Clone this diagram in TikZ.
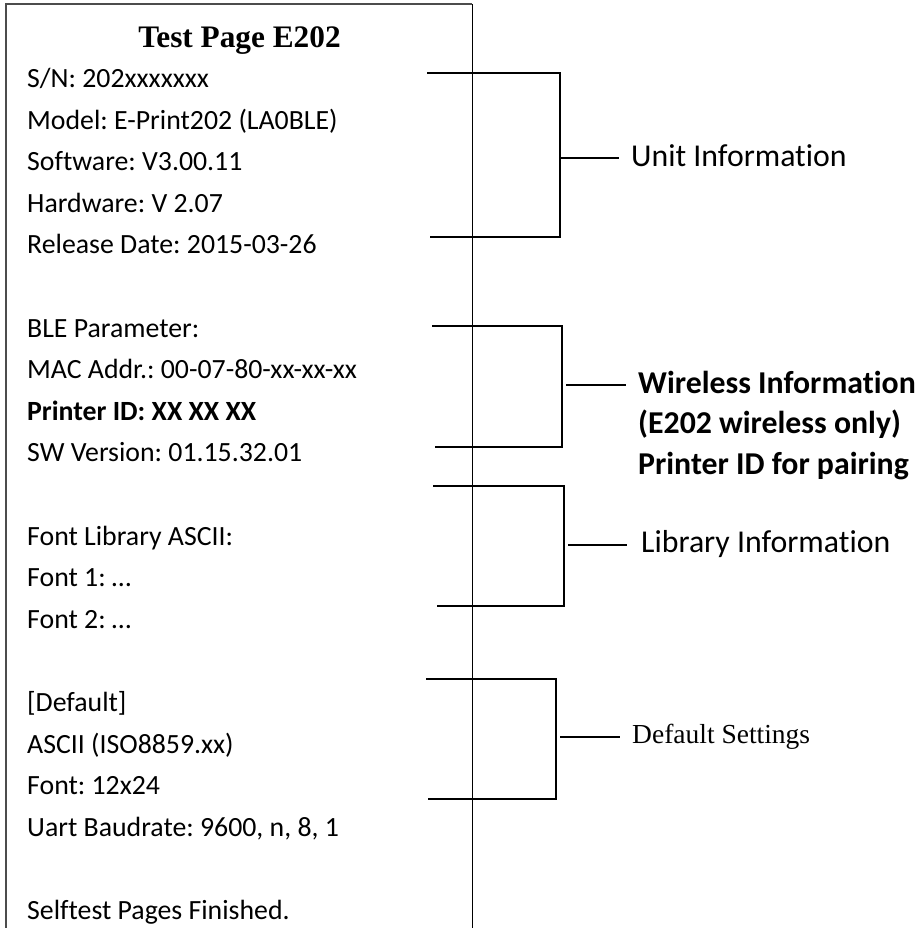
\documentclass[tikz,border=0pt]{standalone}
\usepackage{fontspec}
\setmainfont{Carlito}[Ligatures=NoCommon,RawFeature={-liga;-clig;-dlig}]
\newfontfamily\timesf{Liberation Serif}
\begin{document}
\frenchspacing
\begin{tikzpicture}[x=1pt,y=-1pt,
  line/.style={line width=1.1pt,black},
  body/.style={anchor=base west,inner sep=0pt,font=\fontsize{27.8}{33}\selectfont},
  lab/.style={anchor=base west,inner sep=0pt,font=\fontsize{31.8}{36}\selectfont},
  blab/.style={anchor=base west,inner sep=0pt,font=\fontsize{31.8}{40}\selectfont\bfseries}]
\useasboundingbox[fill=white] (0,0) rectangle (920,928);
% paper outline
\draw[line width=1.3pt,black!70] (6,930) -- (6,4) -- (472,4);
\draw[line width=1pt,black] (472,4) -- (472,930);
% title
\node[anchor=base,inner sep=0pt,font=\timesf\bfseries\fontsize{31.3}{36}\selectfont] (title) at (239.5,48) {Test Page E202};
% body lines
\foreach \i/\t in {0/{S/N: 202xxxxxxx},1/{Model: E-Print202 (LA0BLE)},2/{Software: V3.00.11},3/{Hardware: V 2.07},4/{Release Date: 2015-03-26},6/{BLE Parameter:},7/{MAC Addr.: 00-07-80-xx-xx-xx},9/{SW Version: 01.15.32.01},11/{Font Library ASCII:},12/{Font 1: …},13/{Font 2: …},15/{[Default]},16/{ASCII (ISO8859.xx)},17/{Font: 12x24},18/{Uart Baudrate: 9600, n, 8, 1},20/{Selftest Pages Finished.}}
  \node[body] (t\i) at (27,87.5+41.6*\i) {\t};
\node[body,font=\fontsize{27.8}{33}\selectfont\bfseries] (t8) at (27,87.5+41.6*8) {Printer ID: XX XX XX};
% labels
\node[lab] (unit) at (631,166.7) {Unit Information};
\node[blab] (wl1) at (638,393) {Wireless Information};
\node[blab] (wl2) at (638,433) {(E202 wireless only)};
\node[blab] (wl3) at (638,474) {Printer ID for pairing};
\node[lab] (lib) at (641,552) {Library Information};
\node[anchor=base west,inner sep=0pt,font=\timesf\fontsize{27.5}{33}\selectfont] (def) at (632,743) {Default Settings};
% brackets
\coordinate (u1) at (427,73); \coordinate (u2) at (560,73);
\coordinate (u3) at (560,237); \coordinate (u4) at (430,237);
\coordinate (um) at (560,158); \coordinate (ue) at (619,158);
\draw[line] (u1) -- (u2) -- (u3) -- (u4);
\draw[line] (um) -- (ue);
\coordinate (w1) at (432,326); \coordinate (w2) at (562,326);
\coordinate (w3) at (562,447); \coordinate (w4) at (435,447);
\coordinate (wm) at (566,385); \coordinate (we) at (626,385);
\draw[line] (w1) -- (w2) -- (w3) -- (w4);
\draw[line] (wm) -- (we);
\coordinate (l1) at (433,486); \coordinate (l2) at (564,486);
\coordinate (l3) at (564,606); \coordinate (l4) at (437,606);
\coordinate (lm) at (568,545); \coordinate (le) at (627,545);
\draw[line] (l1) -- (l2) -- (l3) -- (l4);
\draw[line] (lm) -- (le);
\coordinate (d1) at (426,679); \coordinate (d2) at (556,679);
\coordinate (d3) at (556,799); \coordinate (d4) at (428,799);
\coordinate (dm) at (560,737); \coordinate (de) at (620,737);
\draw[line] (d1) -- (d2) -- (d3) -- (d4);
\draw[line] (dm) -- (de);
\end{tikzpicture}
\end{document}
